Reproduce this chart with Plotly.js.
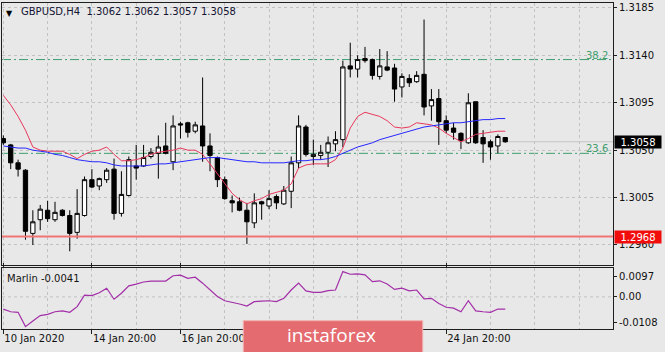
<!DOCTYPE html>
<html><head><meta charset="utf-8">
<script src="https://cdn.plot.ly/plotly-3.0.1.min.js"></script>
<style>html,body{margin:0;padding:0;background:#e8e8e8;}#chart{width:665px;height:352px;}</style>
</head><body><div id="chart"></div>
<script>
const symbol = 'GBPUSD,H4';
const open  = [1.3061,1.3055,1.3038,1.3031,1.2971,1.2984,1.2993,1.2984,1.2993,1.2988,1.2972,1.2988,1.3022,1.3016,1.3022,1.3032,1.2990,1.3007,1.3035,1.3035,1.3044,1.3047,1.3054,1.3039,1.3075,1.3076,1.3068,1.3073,1.3054,1.3043,1.3022,1.3002,1.3001,1.2993,1.2981,1.3001,1.2997,1.3006,1.2999,1.3011,1.3038,1.3072,1.3044,1.3045,1.3048,1.3056,1.3060,1.3130,1.3127,1.3137,1.3136,1.3120,1.3129,1.3128,1.3110,1.3118,1.3115,1.3122,1.3092,1.3099,1.3078,1.3071,1.3066,1.3057,1.3096,1.3062,1.3058,1.3054,1.3062];
const high  = [1.3064,1.3056,1.3041,1.3032,1.2993,1.2998,1.3002,1.3001,1.2994,1.2993,1.3013,1.3025,1.3032,1.3024,1.3033,1.3042,1.3030,1.3044,1.3055,1.3055,1.3052,1.3064,1.3076,1.3083,1.3077,1.3077,1.3077,1.3119,1.3066,1.3044,1.3025,1.3007,1.3005,1.3000,1.3009,1.3002,1.3012,1.3008,1.3016,1.3044,1.3083,1.3074,1.3060,1.3055,1.3063,1.3068,1.3135,1.3152,1.3140,1.3148,1.3137,1.3146,1.3144,1.3132,1.3123,1.3122,1.3125,1.3174,1.3108,1.3108,1.3083,1.3076,1.3067,1.3104,1.3096,1.3069,1.3060,1.3065,1.3062];
const low   = [1.3055,1.3032,1.3025,1.2965,1.2960,1.2974,1.2982,1.2982,1.2987,1.2954,1.2966,1.2987,1.3014,1.3012,1.3019,1.2984,1.2987,1.3006,1.3022,1.3034,1.3042,1.3023,1.3046,1.3031,1.3061,1.3062,1.3066,1.3039,1.3030,1.3015,1.3003,1.2991,1.2992,1.2961,1.2976,1.2984,1.2994,1.2994,1.2998,1.2995,1.3033,1.3044,1.3036,1.3041,1.3034,1.3049,1.3053,1.3119,1.3119,1.3133,1.3117,1.3117,1.3125,1.3096,1.3100,1.3110,1.3114,1.3083,1.3078,1.3055,1.3066,1.3060,1.3051,1.3056,1.3056,1.3038,1.3041,1.3047,1.3057];
const close = [1.3057,1.3038,1.3032,1.2973,1.2982,1.2994,1.2985,1.2991,1.2988,1.2971,1.2990,1.3022,1.3015,1.3023,1.3031,1.2990,1.3008,1.3041,1.3033,1.3043,1.3048,1.3053,1.3047,1.3073,1.3074,1.3067,1.3074,1.3054,1.3045,1.3022,1.3004,1.3000,1.2993,1.2982,1.3000,1.2999,1.3004,1.3000,1.3012,1.3038,1.3073,1.3046,1.3046,1.3048,1.3057,1.3060,1.3129,1.3127,1.3136,1.3135,1.3121,1.3130,1.3126,1.3108,1.3120,1.3114,1.3121,1.3091,1.3098,1.3077,1.3069,1.3067,1.3059,1.3095,1.3057,1.3056,1.3053,1.3063,1.3058];
const maFast = [1.3102,1.3093,1.3082,1.3069,1.3053,1.3050,1.3049,1.3049,1.3049,1.3046,1.3042,1.3046,1.3049,1.3050,1.3053,1.3046,1.3040,1.3040,1.3041,1.3043,1.3046,1.3048,1.3049,1.3050,1.3052,1.3050,1.3050,1.3046,1.3037,1.3028,1.3019,1.3009,1.3003,1.2999,1.3002,1.3004,1.3008,1.3010,1.3012,1.3018,1.3033,1.3036,1.3037,1.3037,1.3037,1.3041,1.3052,1.3071,1.3082,1.3086,1.3084,1.3082,1.3078,1.3072,1.3071,1.3072,1.3076,1.3075,1.3074,1.3071,1.3066,1.3062,1.3058,1.3061,1.3065,1.3066,1.3067,1.3068,1.3068];
const maSlow = [1.3054,1.3053,1.3052,1.3052,1.3050,1.3049,1.3048,1.3046,1.3045,1.3043,1.3041,1.3040,1.3039,1.3039,1.3038,1.3036,1.3035,1.3035,1.3035,1.3035,1.3036,1.3037,1.3037,1.3038,1.3039,1.3040,1.3041,1.3042,1.3043,1.3043,1.3042,1.3041,1.3040,1.3039,1.3039,1.3038,1.3038,1.3038,1.3038,1.3039,1.3040,1.3040,1.3041,1.3041,1.3042,1.3044,1.3047,1.3050,1.3053,1.3055,1.3057,1.3060,1.3062,1.3064,1.3066,1.3068,1.3070,1.3072,1.3073,1.3074,1.3075,1.3076,1.3076,1.3077,1.3078,1.3079,1.3079,1.3080,1.3080];
const marlin = [-0.0041,-0.0050,-0.0052,-0.0100,-0.0081,-0.0063,-0.0059,-0.0050,-0.0047,-0.0052,-0.0033,0.0006,0.0004,0.0014,0.0029,-0.0008,0.0012,0.0037,0.0043,0.0050,0.0053,0.0054,0.0053,0.0071,0.0073,0.0062,0.0066,0.0046,0.0023,0.0001,-0.0013,-0.0018,-0.0024,-0.0031,-0.0016,-0.0014,-0.0013,-0.0016,-0.0005,0.0023,0.0046,0.0020,0.0015,0.0015,0.0021,0.0023,0.0085,0.0076,0.0077,0.0074,0.0051,0.0054,0.0043,0.0025,0.0029,0.0020,0.0023,-0.0007,-0.0005,-0.0022,-0.0035,-0.0038,-0.0050,-0.0013,-0.0047,-0.0050,-0.0052,-0.0041,-0.0041];
const dateTickIndex = [0, 12, 24, 60];
const dateTickText = ['10 Jan 2020', '14 Jan 20:00', '16 Jan 20:00', '24 Jan 20:00'];
const priceTicks = [1.2960, 1.3005, 1.3050, 1.3095, 1.3140, 1.3185];
const marlinTickText = ['0.0097', '0.00', '-0.0108'];
const marlinScale = [-0.0108, 0.0097];
const fibLevels = [1.3047, 1.3136];
const fibNames = ['23.6', '38.2'];
const supportLevel = 1.2968;

const idx = close.map((_, i) => i);
const last = close.length - 1;
const bid = close[last];
const FONT = 'DejaVu Sans';
const GRID = '#c2c2c2';
const LINE = '#1e1e1e';

const traces = [
  {type:'candlestick', x: idx, open, high, low, close, xaxis:'x', yaxis:'y',
   increasing:{line:{color:'#000', width:1}, fillcolor:'#ffffff'},
   decreasing:{line:{color:'#000', width:1}, fillcolor:'#000000'},
   whiskerwidth:0, hoverinfo:'skip', showlegend:false},
  {type:'scatter', mode:'lines', x: idx, y: maFast, line:{color:'#e8385c', width:1}, hoverinfo:'skip', showlegend:false},
  {type:'scatter', mode:'lines', x: idx, y: maSlow, line:{color:'#2626ff', width:1}, hoverinfo:'skip', showlegend:false},
  {type:'scatter', mode:'lines', x: idx, y: marlin, xaxis:'x', yaxis:'y2', line:{color:'#a22ea8', width:1.2}, hoverinfo:'skip', showlegend:false}
];

const dayGrid = [];
for (let d = 6; d < 84; d += 6) if (dateTickIndex.indexOf(d) < 0) dayGrid.push(d);

const shapes = [];
fibLevels.forEach(v => shapes.push({type:'line', xref:'paper', x0:0, x1:1, yref:'y', y0:v, y1:v,
  line:{color:'#3f9e6e', width:1, dash:'9px,3px,2px,3px'}, layer:'below'}));
shapes.push({type:'line', xref:'paper', x0:0, x1:1, yref:'y', y0:bid, y1:bid, line:{color:'#c4c4c4', width:1}, layer:'below'});
shapes.push({type:'line', xref:'paper', x0:0, x1:1, yref:'y', y0:supportLevel, y1:supportLevel, line:{color:'#f07474', width:2}, layer:'above'});
shapes.push({type:'line', xref:'paper', x0:0, x1:1, yref:'y2', y0:0, y1:0, line:{color:GRID, width:1, dash:'3px,3px'}, layer:'below'});
// logo
shapes.push({type:'rect', xref:'paper', yref:'paper', x0:0.3949, x1:0.6886, y0:-0.08, y1:0.0255,
  fillcolor:'#e46b6f', line:{color:'#f2b2b2', width:1}, layer:'above'});

const annotations = [
  {xref:'paper', yref:'paper', x:0, y:1, xanchor:'left', yanchor:'top', xshift:2, yshift:-4, showarrow:false,
   text:'▼', font:{family:FONT, size:8, color:'#000'}},
  {xref:'paper', yref:'paper', x:0, y:1, xanchor:'left', yanchor:'top', xshift:17, yshift:-1, showarrow:false,
   text: symbol + '\u00a0\u00a0' + [open[last], high[last], low[last], close[last]].map(v => v.toFixed(4)).join(' '),
   font:{family:FONT, size:10, color:'#141432'}},
  {xref:'paper', yref:'y2 domain', x:0, y:1, xanchor:'left', yanchor:'top', xshift:3, yshift:-3, showarrow:false,
   text:'Marlin ' + marlin[last].toFixed(4), font:{family:FONT, size:10, color:'#141414'}},
  {xref:'paper', yref:'y', x:1, y:bid, xanchor:'left', yanchor:'middle', xshift:1, showarrow:false,
   text: bid.toFixed(4), bgcolor:'#000', width:44, height:10, borderpad:1, font:{family:FONT, size:10, color:'#fff'}},
  {xref:'paper', yref:'y', x:1, y:supportLevel, xanchor:'left', yanchor:'middle', xshift:1, showarrow:false,
   text: supportLevel.toFixed(4), bgcolor:'#f20d0d', width:44, height:10, borderpad:1, font:{family:FONT, size:10, color:'#fff'}},
  {xref:'paper', yref:'paper', x:0.5396, y:-0.0184, xanchor:'center', yanchor:'middle', showarrow:false,
   text:'instaforex', font:{family:'Open Sans', size:19, color:'#ffffff'}}
];
fibLevels.forEach((v, k) => annotations.push({xref:'paper', yref:'y', x:1, y:v, xanchor:'right', yanchor:'bottom',
  xshift:-3, yshift:-3, showarrow:false, text:fibNames[k], font:{family:FONT, size:10, color:'#3f9e6e'}}));

const layout = {
  width:665, height:352,
  margin:{l:2, r:52, t:3, b:23, pad:0},
  paper_bgcolor:'#e8e8e8', plot_bgcolor:'#e8e8e8',
  font:{family:FONT, size:10, color:'#111'},
  showlegend:false, dragmode:false, hovermode:false,
  boxgap:0.42, boxgroupgap:0,
  xaxis:{anchor:'y2', domain:[0,1], range:[-0.18, 82.6], rangeslider:{visible:false},
    tickmode:'array', tickvals:dateTickIndex, ticktext:dateTickText, ticklabelposition:'outside right',
    ticks:'outside', ticklen:4, tickcolor:LINE, tickfont:{family:FONT, size:10, color:'#111'},
    showgrid:true, gridcolor:GRID, griddash:'3px,3px', gridwidth:1,
    minor:{tickmode:'array', tickvals:dayGrid, showgrid:true, gridcolor:GRID, griddash:'3px,3px', ticks:''},
    showline:true, mirror:'all', linecolor:LINE, linewidth:1, zeroline:false, fixedrange:true},
  yaxis:{domain:[0.1963,1], range:[1.2941, 1.31897], side:'right', anchor:'x',
    tickmode:'array', tickvals:priceTicks, tickformat:'.4f', ticks:'outside', ticklen:3, tickcolor:LINE,
    showgrid:true, gridcolor:GRID, griddash:'3px,3px', gridwidth:1,
    showline:true, mirror:true, linecolor:LINE, linewidth:1, zeroline:false, fixedrange:true},
  yaxis2:{domain:[0,0.1871], range:marlinScale, side:'right', anchor:'x',
    tickmode:'array', tickvals:[0.00678, 0, -0.00868], ticktext:marlinTickText, ticks:'outside', ticklen:3, tickcolor:LINE,
    showgrid:false, showline:true, mirror:true, linecolor:LINE, linewidth:1, zeroline:false, fixedrange:true},
  shapes, annotations
};

Plotly.newPlot('chart', traces, layout, {displayModeBar:false, staticPlot:true});
</script>
</body></html>
